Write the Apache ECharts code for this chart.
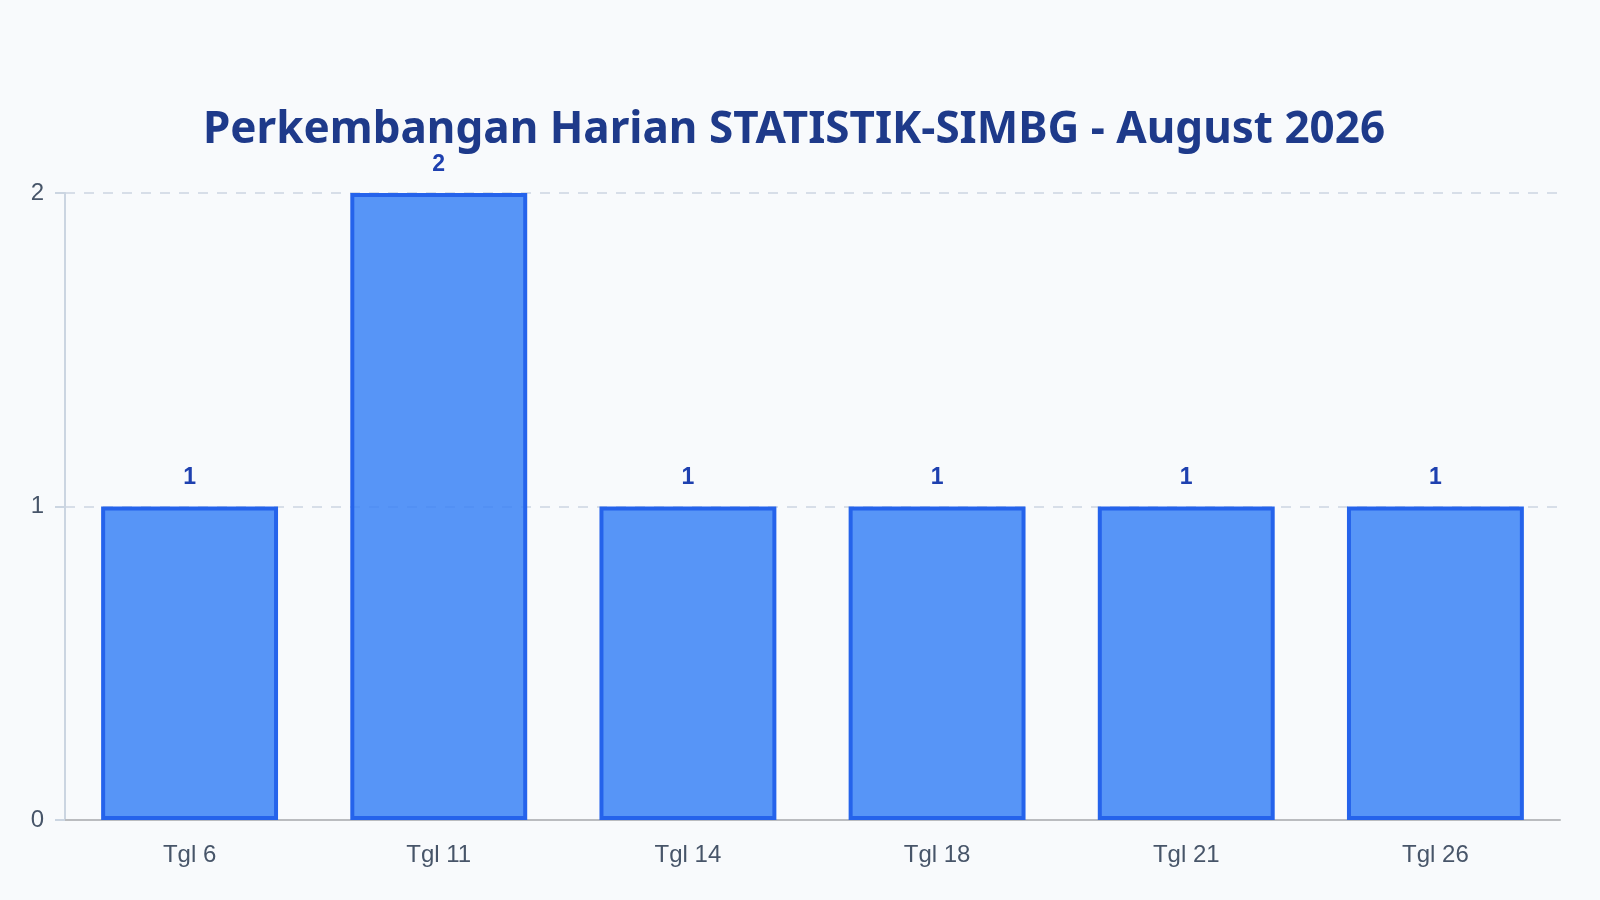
<!DOCTYPE html>
<html>
<head>
<meta charset="utf-8">
<script src="https://cdn.jsdelivr.net/npm/echarts@6/dist/echarts.min.js"></script>
<style>
  html, body { margin: 0; padding: 0; background: #f8fafc; }
  #myChart { width: 1600px; height: 900px; }
</style>
</head>
<body>
<div id="myChart"></div>
<script>
var titleText = 'Perkembangan Harian STATISTIK-SIMBG - August 2026';
var days = ['Tgl 6', 'Tgl 11', 'Tgl 14', 'Tgl 18', 'Tgl 21', 'Tgl 26'];
var counts = [1, 2, 1, 1, 1, 1];

var myChart = echarts.init(document.getElementById('myChart'));

var option = {
    backgroundColor: '#f8fafc',
    animation: false,
    title: {
        text: titleText,
        left: 198,
        top: 103,
        textStyle: {
            fontFamily: 'Noto Sans',
            fontWeight: 'bold',
            fontSize: 44,
            color: '#1e3a8a'
        }
    },
    grid: {
        left: 65,
        right: 40,
        top: 193,
        bottom: 80,
        containLabel: false
    },
    xAxis: {
        type: 'category',
        data: days,
        axisLine: { show: true, lineStyle: { color: '#babcbf', width: 2 } },
        axisTick: { show: false },
        axisLabel: {
            margin: 23,
            fontFamily: 'Liberation Sans',
            fontSize: 24,
            color: '#475569'
        }
    },
    yAxis: {
        type: 'value',
        min: 0,
        max: 2,
        interval: 1,
        axisLine: { show: true, lineStyle: { color: '#cbd5e1', width: 2 } },
        axisTick: { show: true, length: 20, lineStyle: { color: '#cbd5e1', width: 2, type: [10, 10] } },
        axisLabel: {
            margin: 21,
            fontFamily: 'Liberation Sans',
            fontSize: 24,
            color: '#475569'
        },
        splitLine: {
            show: true,
            lineStyle: { color: '#cbd5e1', width: 1.5, type: [10, 9] }
        }
    },
    series: [{
        type: 'bar',
        data: counts,
        barWidth: '71%',
        itemStyle: {
            color: 'rgba(59,130,246,0.85)',
            borderColor: '#2563eb',
            borderWidth: 4
        },
        label: {
            show: true,
            position: 'top',
            distance: 17,
            fontFamily: 'Liberation Sans',
            fontWeight: 'bold',
            fontSize: 23,
            color: '#1e40af'
        }
    }]
};
myChart.setOption(option);

window.onresize = function () {
    myChart.resize();
};
</script>
</body>
</html>
